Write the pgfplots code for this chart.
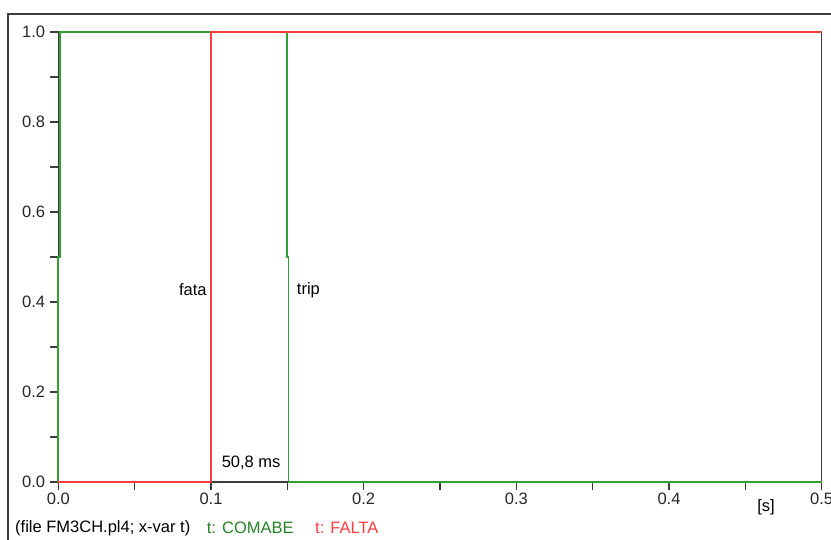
\documentclass[border=0pt]{standalone}
\usepackage{pgfplots}
\pgfplotsset{compat=1.18}
\usepackage{fontspec}
\setmainfont{Liberation Sans}
\definecolor{pgreen}{RGB}{50,160,50}
\definecolor{pred}{RGB}{255,60,60}
\definecolor{axgray}{RGB}{60,60,60}
\newcommand{\lab}{\fontsize{16.5}{16.5}\selectfont}
\begin{document}
\begin{tikzpicture}
\useasboundingbox (-58.3pt,-58pt) rectangle (772.7pt,482pt);
% outer frame
\draw[axgray, line width=1.6pt] (-50.3pt,-60pt) -- (-50.3pt,468pt) -- (780pt,468pt);
\begin{axis}[
  at={(0pt,0pt)}, anchor=south west,
  scale only axis, width=763.4pt, height=450pt,
  xmin=0, xmax=0.5, ymin=0, ymax=1,
  axis line style={axgray, line width=1.3pt},
  tick style={axgray, line width=1.1pt},
  tick align=outside,
  xtick pos=bottom, ytick pos=left,
  major tick length=8pt, minor tick length=8pt,
  xtick={0,0.1,0.2,0.3,0.4,0.5},
  minor xtick={0.05,0.15,0.25,0.35,0.45},
  ytick={0,0.2,0.4,0.6,0.8,1.0},
  minor ytick={0.1,0.3,0.5,0.7,0.9},
  /pgf/number format/assume math mode=true,
  /pgf/number format/fixed,
  /pgf/number format/fixed zerofill,
  /pgf/number format/precision=1,
  ticklabel style={font=\lab, text=black!85},
  xticklabel style={anchor=north, inner sep=0pt, yshift=-3pt},
  yticklabel style={anchor=east, inner sep=0pt, xshift=-5pt},
  clip=false,
]
\addplot[pgreen, line width=1.9pt, line join=miter] coordinates {
  (0,0) (0,0.5) (0.0009,0.5) (0.0009,1) (0.1500,1) (0.1500,0.5) (0.1508,0.5) (0.1508,0) (0.5,0)
};
\addplot[pred, line width=1.9pt, line join=miter] coordinates {
  (0,0) (0.1,0) (0.1,1) (0.5,1)
};
\node[font=\lab, anchor=east, inner sep=0pt] at (axis cs:0.0973,0.427) {fata};
\node[font=\lab, anchor=west, inner sep=0pt] at (axis cs:0.1562,0.427) {trip};
\node[font=\lab, anchor=center, inner sep=0pt] at (axis cs:0.1263,0.043) {50,8 ms};
\end{axis}
\node[font=\lab, anchor=center, inner sep=0pt] at (707.7pt,-25pt) {[s]};
\node[font=\lab, anchor=west, inner sep=0pt] at (-43.3pt,-46pt) {(file FM3CH.pl4; x-var t)};
\node[font=\lab, anchor=west, inner sep=0pt, text=pgreen!80!black] at (148.4pt,-46pt) {t: COMABE};
\node[font=\lab, anchor=west, inner sep=0pt, text=pred] at (256.7pt,-46pt) {t: FALTA};
\end{tikzpicture}
\end{document}
